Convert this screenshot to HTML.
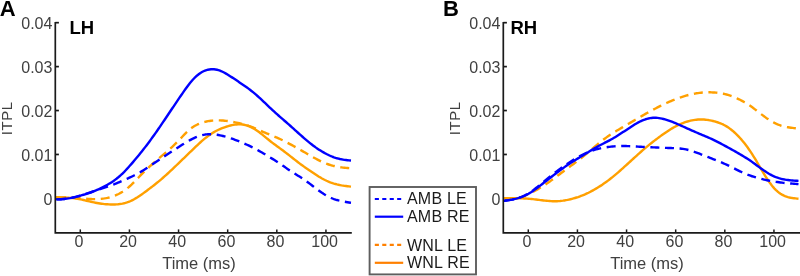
<!DOCTYPE html>
<html><head><meta charset="utf-8"><style>
html,body{margin:0;padding:0;background:#fff;}
body{width:800px;height:276px;overflow:hidden;}
svg{display:block;will-change:transform;}
text{font-family:"Liberation Sans",sans-serif;}
.tk{font-size:16px;fill:#404040;}
.ty{letter-spacing:0px;}
text.yl{font-size:15px;letter-spacing:0.5px;}
.lb{font-size:16.5px;fill:#404040;}
.lg{font-size:16px;letter-spacing:0.2px;fill:#1a1a1a;}
.tt{font-size:18.5px;font-weight:bold;fill:#000;}
.lt{font-size:22px;font-weight:bold;fill:#000;}
</style></head><body>
<svg width="800" height="276" viewBox="0 0 800 276">
<rect width="800" height="276" fill="#fff"/>
<line x1="55.30" y1="198.40" x2="58.90" y2="198.40" stroke="#1a1a1a" stroke-width="1.7"/>
<line x1="55.30" y1="154.47" x2="58.90" y2="154.47" stroke="#1a1a1a" stroke-width="1.7"/>
<line x1="55.30" y1="110.54" x2="58.90" y2="110.54" stroke="#1a1a1a" stroke-width="1.7"/>
<line x1="55.30" y1="66.61" x2="58.90" y2="66.61" stroke="#1a1a1a" stroke-width="1.7"/>
<line x1="55.30" y1="22.68" x2="58.90" y2="22.68" stroke="#1a1a1a" stroke-width="1.7"/>
<line x1="80.30" y1="232.80" x2="80.30" y2="229.40" stroke="#1a1a1a" stroke-width="1.5"/>
<line x1="129.43" y1="232.80" x2="129.43" y2="229.40" stroke="#1a1a1a" stroke-width="1.5"/>
<line x1="178.56" y1="232.80" x2="178.56" y2="229.40" stroke="#1a1a1a" stroke-width="1.5"/>
<line x1="227.69" y1="232.80" x2="227.69" y2="229.40" stroke="#1a1a1a" stroke-width="1.5"/>
<line x1="276.82" y1="232.80" x2="276.82" y2="229.40" stroke="#1a1a1a" stroke-width="1.5"/>
<line x1="325.95" y1="232.80" x2="325.95" y2="229.40" stroke="#1a1a1a" stroke-width="1.5"/>
<clipPath id="clip0"><rect x="55.3" y="17.0" width="296.5" height="215.8"/></clipPath>
<g clip-path="url(#clip0)" fill="none" stroke-width="2.40" stroke-linejoin="round">
<path d="M55.00,197.28 L56.50,197.32 L58.00,197.35 L59.50,197.39 L61.00,197.42 L62.50,197.46 L64.00,197.51 L65.50,197.55 L67.00,197.60 L68.50,197.65 L70.00,197.71 L71.50,197.77 L73.00,197.84 L74.50,197.92 L76.00,198.00 L77.50,198.09 L79.00,198.19 L80.50,198.30 L82.00,198.41 L83.50,198.53 L85.00,198.64 L86.50,198.75 L88.00,198.86 L89.50,198.95 L91.00,199.02 L92.50,199.08 L94.00,199.11 L95.50,199.12 L97.00,199.10 L98.50,199.04 L100.00,198.95 L101.50,198.82 L103.00,198.64 L104.50,198.43 L106.00,198.17 L107.50,197.86 L109.00,197.50 L110.50,197.10 L112.00,196.64 L113.50,196.12 L115.00,195.55 L116.50,194.91 L118.00,194.22 L119.50,193.45 L121.00,192.62 L122.50,191.71 L124.00,190.73 L125.50,189.67 L127.00,188.53 L128.50,187.31 L130.00,186.01 L131.50,184.62 L133.00,183.16 L134.50,181.66 L136.00,180.12 L137.50,178.56 L139.00,177.00 L140.50,175.46 L142.00,173.94 L143.50,172.45 L145.00,170.99 L146.50,169.55 L148.00,168.13 L149.50,166.73 L151.00,165.35 L152.50,163.99 L154.00,162.64 L155.50,161.31 L157.00,160.00 L158.50,158.70 L160.00,157.41 L161.50,156.14 L163.00,154.87 L164.50,153.61 L166.00,152.33 L167.50,151.05 L169.00,149.74 L170.50,148.40 L172.00,147.04 L173.50,145.63 L175.00,144.19 L176.50,142.71 L178.00,141.19 L179.50,139.63 L181.00,138.05 L182.50,136.46 L184.00,134.89 L185.50,133.36 L187.00,131.88 L188.50,130.49 L190.00,129.20 L191.50,128.04 L193.00,126.99 L194.50,126.05 L196.00,125.21 L197.50,124.47 L199.00,123.80 L200.50,123.21 L202.00,122.68 L203.50,122.22 L205.00,121.82 L206.50,121.48 L208.00,121.18 L209.50,120.94 L211.00,120.75 L212.50,120.60 L214.00,120.49 L215.50,120.42 L217.00,120.38 L218.50,120.38 L220.00,120.42 L221.50,120.48 L223.00,120.57 L224.50,120.69 L226.00,120.85 L227.50,121.03 L229.00,121.23 L230.50,121.47 L232.00,121.73 L233.50,122.02 L235.00,122.32 L236.50,122.63 L238.00,122.95 L239.50,123.29 L241.00,123.64 L242.50,124.02 L244.00,124.42 L245.50,124.84 L247.00,125.29 L248.50,125.78 L250.00,126.29 L251.50,126.85 L253.00,127.44 L254.50,128.06 L256.00,128.69 L257.50,129.35 L259.00,130.02 L260.50,130.69 L262.00,131.36 L263.50,132.03 L265.00,132.69 L266.50,133.34 L268.00,133.96 L269.50,134.58 L271.00,135.19 L272.50,135.79 L274.00,136.41 L275.50,137.03 L277.00,137.67 L278.50,138.32 L280.00,139.01 L281.50,139.73 L283.00,140.47 L284.50,141.22 L286.00,142.00 L287.50,142.78 L289.00,143.57 L290.50,144.37 L292.00,145.18 L293.50,146.00 L295.00,146.83 L296.50,147.67 L298.00,148.52 L299.50,149.37 L301.00,150.23 L302.50,151.10 L304.00,151.96 L305.50,152.83 L307.00,153.71 L308.50,154.57 L310.00,155.44 L311.50,156.30 L313.00,157.15 L314.50,157.99 L316.00,158.81 L317.50,159.61 L319.00,160.39 L320.50,161.13 L322.00,161.84 L323.50,162.50 L325.00,163.13 L326.50,163.71 L328.00,164.25 L329.50,164.76 L331.00,165.22 L332.50,165.64 L334.00,166.01 L335.50,166.35 L337.00,166.66 L338.50,166.93 L340.00,167.17 L341.50,167.39 L343.00,167.58 L344.50,167.75 L346.00,167.90 L347.50,168.04 L349.00,168.17 L350.50,168.30 L351.00,168.34" stroke="#FFA000" stroke-dasharray="9 5.6" stroke-dashoffset="-2"/>
<path d="M55.00,197.23 L56.50,197.26 L58.00,197.29 L59.50,197.32 L61.00,197.36 L62.50,197.41 L64.00,197.47 L65.50,197.54 L67.00,197.62 L68.50,197.72 L70.00,197.84 L71.50,197.98 L73.00,198.15 L74.50,198.33 L76.00,198.55 L77.50,198.79 L79.00,199.05 L80.50,199.34 L82.00,199.66 L83.50,200.00 L85.00,200.35 L86.50,200.71 L88.00,201.07 L89.50,201.42 L91.00,201.76 L92.50,202.09 L94.00,202.41 L95.50,202.71 L97.00,202.99 L98.50,203.25 L100.00,203.49 L101.50,203.71 L103.00,203.90 L104.50,204.07 L106.00,204.21 L107.50,204.32 L109.00,204.41 L110.50,204.46 L112.00,204.49 L113.50,204.48 L115.00,204.43 L116.50,204.35 L118.00,204.22 L119.50,204.05 L121.00,203.83 L122.50,203.56 L124.00,203.24 L125.50,202.85 L127.00,202.40 L128.50,201.88 L130.00,201.28 L131.50,200.60 L133.00,199.85 L134.50,199.04 L136.00,198.16 L137.50,197.24 L139.00,196.26 L140.50,195.25 L142.00,194.21 L143.50,193.14 L145.00,192.04 L146.50,190.92 L148.00,189.79 L149.50,188.65 L151.00,187.50 L152.50,186.34 L154.00,185.18 L155.50,183.99 L157.00,182.80 L158.50,181.58 L160.00,180.33 L161.50,179.07 L163.00,177.77 L164.50,176.45 L166.00,175.11 L167.50,173.75 L169.00,172.37 L170.50,170.97 L172.00,169.56 L173.50,168.13 L175.00,166.69 L176.50,165.24 L178.00,163.79 L179.50,162.35 L181.00,160.90 L182.50,159.45 L184.00,158.01 L185.50,156.57 L187.00,155.12 L188.50,153.67 L190.00,152.22 L191.50,150.77 L193.00,149.31 L194.50,147.86 L196.00,146.42 L197.50,145.01 L199.00,143.61 L200.50,142.26 L202.00,140.93 L203.50,139.65 L205.00,138.42 L206.50,137.23 L208.00,136.09 L209.50,135.01 L211.00,133.99 L212.50,133.03 L214.00,132.12 L215.50,131.27 L217.00,130.47 L218.50,129.73 L220.00,129.04 L221.50,128.40 L223.00,127.81 L224.50,127.27 L226.00,126.77 L227.50,126.31 L229.00,125.90 L230.50,125.52 L232.00,125.17 L233.50,124.88 L235.00,124.64 L236.50,124.46 L238.00,124.35 L239.50,124.32 L241.00,124.37 L242.50,124.51 L244.00,124.75 L245.50,125.07 L247.00,125.49 L248.50,126.00 L250.00,126.61 L251.50,127.32 L253.00,128.11 L254.50,128.99 L256.00,129.95 L257.50,130.97 L259.00,132.06 L260.50,133.19 L262.00,134.38 L263.50,135.59 L265.00,136.83 L266.50,138.07 L268.00,139.30 L269.50,140.51 L271.00,141.68 L272.50,142.83 L274.00,143.95 L275.50,145.06 L277.00,146.16 L278.50,147.26 L280.00,148.36 L281.50,149.46 L283.00,150.57 L284.50,151.70 L286.00,152.84 L287.50,154.00 L289.00,155.17 L290.50,156.35 L292.00,157.53 L293.50,158.71 L295.00,159.88 L296.50,161.05 L298.00,162.20 L299.50,163.34 L301.00,164.47 L302.50,165.57 L304.00,166.64 L305.50,167.69 L307.00,168.71 L308.50,169.72 L310.00,170.73 L311.50,171.73 L313.00,172.73 L314.50,173.73 L316.00,174.73 L317.50,175.70 L319.00,176.66 L320.50,177.57 L322.00,178.44 L323.50,179.26 L325.00,180.03 L326.50,180.74 L328.00,181.40 L329.50,182.02 L331.00,182.58 L332.50,183.10 L334.00,183.58 L335.50,184.00 L337.00,184.39 L338.50,184.74 L340.00,185.06 L341.50,185.35 L343.00,185.60 L344.50,185.84 L346.00,186.05 L347.50,186.24 L349.00,186.43 L350.50,186.61 L351.00,186.67" stroke="#FFA000"/>
<path d="M55.00,199.46 L56.50,199.41 L58.00,199.34 L59.50,199.27 L61.00,199.18 L62.50,199.08 L64.00,198.95 L65.50,198.79 L67.00,198.60 L68.50,198.39 L70.00,198.14 L71.50,197.85 L73.00,197.54 L74.50,197.19 L76.00,196.82 L77.50,196.42 L79.00,196.00 L80.50,195.57 L82.00,195.12 L83.50,194.66 L85.00,194.20 L86.50,193.72 L88.00,193.23 L89.50,192.74 L91.00,192.24 L92.50,191.73 L94.00,191.22 L95.50,190.71 L97.00,190.21 L98.50,189.70 L100.00,189.20 L101.50,188.70 L103.00,188.20 L104.50,187.71 L106.00,187.21 L107.50,186.70 L109.00,186.17 L110.50,185.64 L112.00,185.08 L113.50,184.51 L115.00,183.92 L116.50,183.32 L118.00,182.70 L119.50,182.08 L121.00,181.44 L122.50,180.80 L124.00,180.14 L125.50,179.48 L127.00,178.80 L128.50,178.12 L130.00,177.42 L131.50,176.71 L133.00,175.98 L134.50,175.24 L136.00,174.47 L137.50,173.68 L139.00,172.85 L140.50,172.00 L142.00,171.10 L143.50,170.18 L145.00,169.23 L146.50,168.27 L148.00,167.29 L149.50,166.30 L151.00,165.30 L152.50,164.31 L154.00,163.31 L155.50,162.31 L157.00,161.31 L158.50,160.31 L160.00,159.31 L161.50,158.31 L163.00,157.32 L164.50,156.32 L166.00,155.33 L167.50,154.33 L169.00,153.34 L170.50,152.35 L172.00,151.37 L173.50,150.39 L175.00,149.41 L176.50,148.43 L178.00,147.46 L179.50,146.50 L181.00,145.54 L182.50,144.59 L184.00,143.65 L185.50,142.74 L187.00,141.84 L188.50,140.97 L190.00,140.13 L191.50,139.32 L193.00,138.55 L194.50,137.83 L196.00,137.17 L197.50,136.56 L199.00,136.01 L200.50,135.54 L202.00,135.14 L203.50,134.81 L205.00,134.56 L206.50,134.37 L208.00,134.25 L209.50,134.19 L211.00,134.20 L212.50,134.26 L214.00,134.38 L215.50,134.55 L217.00,134.77 L218.50,135.02 L220.00,135.32 L221.50,135.65 L223.00,136.01 L224.50,136.39 L226.00,136.81 L227.50,137.25 L229.00,137.71 L230.50,138.20 L232.00,138.70 L233.50,139.22 L235.00,139.76 L236.50,140.32 L238.00,140.90 L239.50,141.50 L241.00,142.12 L242.50,142.75 L244.00,143.40 L245.50,144.07 L247.00,144.76 L248.50,145.46 L250.00,146.18 L251.50,146.92 L253.00,147.68 L254.50,148.45 L256.00,149.24 L257.50,150.04 L259.00,150.87 L260.50,151.71 L262.00,152.57 L263.50,153.44 L265.00,154.32 L266.50,155.21 L268.00,156.11 L269.50,157.02 L271.00,157.94 L272.50,158.88 L274.00,159.83 L275.50,160.80 L277.00,161.78 L278.50,162.78 L280.00,163.79 L281.50,164.81 L283.00,165.83 L284.50,166.85 L286.00,167.87 L287.50,168.89 L289.00,169.90 L290.50,170.90 L292.00,171.89 L293.50,172.86 L295.00,173.81 L296.50,174.74 L298.00,175.66 L299.50,176.58 L301.00,177.53 L302.50,178.51 L304.00,179.52 L305.50,180.58 L307.00,181.66 L308.50,182.76 L310.00,183.89 L311.50,185.03 L313.00,186.18 L314.50,187.33 L316.00,188.47 L317.50,189.59 L319.00,190.70 L320.50,191.77 L322.00,192.80 L323.50,193.78 L325.00,194.71 L326.50,195.59 L328.00,196.41 L329.50,197.17 L331.00,197.87 L332.50,198.50 L334.00,199.07 L335.50,199.58 L337.00,200.03 L338.50,200.44 L340.00,200.81 L341.50,201.14 L343.00,201.45 L344.50,201.72 L346.00,201.98 L347.50,202.23 L349.00,202.46 L350.50,202.69 L351.00,202.76" stroke="#0000FF" stroke-dasharray="9 5.6" stroke-dashoffset="-2"/>
<path d="M55.00,199.46 L56.50,199.40 L58.00,199.34 L59.50,199.26 L61.00,199.18 L62.50,199.07 L64.00,198.94 L65.50,198.79 L67.00,198.60 L68.50,198.38 L70.00,198.14 L71.50,197.86 L73.00,197.55 L74.50,197.22 L76.00,196.85 L77.50,196.46 L79.00,196.06 L80.50,195.64 L82.00,195.20 L83.50,194.76 L85.00,194.30 L86.50,193.82 L88.00,193.33 L89.50,192.82 L91.00,192.29 L92.50,191.75 L94.00,191.18 L95.50,190.59 L97.00,189.97 L98.50,189.32 L100.00,188.64 L101.50,187.92 L103.00,187.17 L104.50,186.39 L106.00,185.57 L107.50,184.72 L109.00,183.83 L110.50,182.90 L112.00,181.94 L113.50,180.93 L115.00,179.86 L116.50,178.74 L118.00,177.55 L119.50,176.29 L121.00,174.96 L122.50,173.54 L124.00,172.06 L125.50,170.51 L127.00,168.91 L128.50,167.25 L130.00,165.57 L131.50,163.85 L133.00,162.11 L134.50,160.34 L136.00,158.56 L137.50,156.75 L139.00,154.92 L140.50,153.06 L142.00,151.19 L143.50,149.29 L145.00,147.37 L146.50,145.42 L148.00,143.44 L149.50,141.43 L151.00,139.39 L152.50,137.33 L154.00,135.23 L155.50,133.11 L157.00,130.96 L158.50,128.80 L160.00,126.62 L161.50,124.42 L163.00,122.20 L164.50,119.98 L166.00,117.74 L167.50,115.50 L169.00,113.26 L170.50,111.02 L172.00,108.78 L173.50,106.55 L175.00,104.32 L176.50,102.10 L178.00,99.88 L179.50,97.68 L181.00,95.49 L182.50,93.32 L184.00,91.17 L185.50,89.06 L187.00,86.99 L188.50,84.97 L190.00,83.05 L191.50,81.24 L193.00,79.54 L194.50,77.96 L196.00,76.51 L197.50,75.19 L199.00,74.01 L200.50,72.96 L202.00,72.05 L203.50,71.27 L205.00,70.63 L206.50,70.11 L208.00,69.71 L209.50,69.44 L211.00,69.28 L212.50,69.23 L214.00,69.30 L215.50,69.48 L217.00,69.77 L218.50,70.17 L220.00,70.67 L221.50,71.28 L223.00,71.99 L224.50,72.77 L226.00,73.62 L227.50,74.51 L229.00,75.45 L230.50,76.41 L232.00,77.38 L233.50,78.36 L235.00,79.36 L236.50,80.36 L238.00,81.37 L239.50,82.38 L241.00,83.39 L242.50,84.41 L244.00,85.44 L245.50,86.48 L247.00,87.55 L248.50,88.65 L250.00,89.78 L251.50,90.95 L253.00,92.16 L254.50,93.41 L256.00,94.69 L257.50,96.01 L259.00,97.36 L260.50,98.73 L262.00,100.13 L263.50,101.55 L265.00,102.99 L266.50,104.42 L268.00,105.86 L269.50,107.29 L271.00,108.70 L272.50,110.10 L274.00,111.48 L275.50,112.85 L277.00,114.19 L278.50,115.52 L280.00,116.84 L281.50,118.14 L283.00,119.43 L284.50,120.73 L286.00,122.03 L287.50,123.35 L289.00,124.67 L290.50,126.00 L292.00,127.33 L293.50,128.68 L295.00,130.03 L296.50,131.38 L298.00,132.74 L299.50,134.09 L301.00,135.44 L302.50,136.77 L304.00,138.09 L305.50,139.38 L307.00,140.66 L308.50,141.90 L310.00,143.12 L311.50,144.30 L313.00,145.45 L314.50,146.56 L316.00,147.63 L317.50,148.65 L319.00,149.64 L320.50,150.59 L322.00,151.50 L323.50,152.38 L325.00,153.22 L326.50,154.03 L328.00,154.78 L329.50,155.49 L331.00,156.15 L332.50,156.75 L334.00,157.30 L335.50,157.80 L337.00,158.24 L338.50,158.63 L340.00,158.99 L341.50,159.30 L343.00,159.57 L344.50,159.81 L346.00,160.02 L347.50,160.21 L349.00,160.39 L350.50,160.56 L351.00,160.62" stroke="#0000FF"/>
</g>
<path d="M55.30,22.00 V232.80 H351.80" fill="none" stroke="#1a1a1a" stroke-width="1.7" stroke-linejoin="miter"/>
<text x="52.40" y="205.00" text-anchor="end" class="tk ty">0</text>
<text x="52.40" y="161.07" text-anchor="end" class="tk ty">0.01</text>
<text x="52.40" y="117.14" text-anchor="end" class="tk ty">0.02</text>
<text x="52.40" y="73.21" text-anchor="end" class="tk ty">0.03</text>
<text x="52.40" y="29.28" text-anchor="end" class="tk ty">0.04</text>
<text x="79.00" y="246.90" text-anchor="middle" class="tk">0</text>
<text x="128.13" y="246.90" text-anchor="middle" class="tk">20</text>
<text x="177.26" y="246.90" text-anchor="middle" class="tk">40</text>
<text x="226.39" y="246.90" text-anchor="middle" class="tk">60</text>
<text x="275.52" y="246.90" text-anchor="middle" class="tk">80</text>
<text x="324.65" y="246.90" text-anchor="middle" class="tk">100</text>
<text x="199.00" y="268.6" text-anchor="middle" class="lb">Time (ms)</text>
<text transform="translate(11.50,118.3) rotate(-90)" text-anchor="middle" class="lb yl">ITPL</text>
<text x="69.50" y="33.8" class="tt">LH</text>
<text x="-0.20" y="15.5" class="lt">A</text>
<line x1="503.30" y1="198.40" x2="506.90" y2="198.40" stroke="#1a1a1a" stroke-width="1.7"/>
<line x1="503.30" y1="154.47" x2="506.90" y2="154.47" stroke="#1a1a1a" stroke-width="1.7"/>
<line x1="503.30" y1="110.54" x2="506.90" y2="110.54" stroke="#1a1a1a" stroke-width="1.7"/>
<line x1="503.30" y1="66.61" x2="506.90" y2="66.61" stroke="#1a1a1a" stroke-width="1.7"/>
<line x1="503.30" y1="22.68" x2="506.90" y2="22.68" stroke="#1a1a1a" stroke-width="1.7"/>
<line x1="528.30" y1="232.80" x2="528.30" y2="229.40" stroke="#1a1a1a" stroke-width="1.5"/>
<line x1="577.43" y1="232.80" x2="577.43" y2="229.40" stroke="#1a1a1a" stroke-width="1.5"/>
<line x1="626.56" y1="232.80" x2="626.56" y2="229.40" stroke="#1a1a1a" stroke-width="1.5"/>
<line x1="675.69" y1="232.80" x2="675.69" y2="229.40" stroke="#1a1a1a" stroke-width="1.5"/>
<line x1="724.82" y1="232.80" x2="724.82" y2="229.40" stroke="#1a1a1a" stroke-width="1.5"/>
<line x1="773.95" y1="232.80" x2="773.95" y2="229.40" stroke="#1a1a1a" stroke-width="1.5"/>
<clipPath id="clip448"><rect x="503.3" y="17.0" width="296.7" height="215.8"/></clipPath>
<g clip-path="url(#clip448)" fill="none" stroke-width="2.40" stroke-linejoin="round">
<path d="M503.00,198.43 L504.50,198.46 L506.00,198.48 L507.50,198.49 L509.00,198.49 L510.50,198.45 L512.00,198.39 L513.50,198.28 L515.00,198.13 L516.50,197.93 L518.00,197.68 L519.50,197.37 L521.00,197.00 L522.50,196.57 L524.00,196.07 L525.50,195.50 L527.00,194.87 L528.50,194.19 L530.00,193.46 L531.50,192.69 L533.00,191.89 L534.50,191.06 L536.00,190.22 L537.50,189.35 L539.00,188.47 L540.50,187.57 L542.00,186.65 L543.50,185.71 L545.00,184.74 L546.50,183.75 L548.00,182.73 L549.50,181.68 L551.00,180.62 L552.50,179.53 L554.00,178.42 L555.50,177.31 L557.00,176.19 L558.50,175.06 L560.00,173.93 L561.50,172.80 L563.00,171.67 L564.50,170.55 L566.00,169.43 L567.50,168.32 L569.00,167.22 L570.50,166.13 L572.00,165.04 L573.50,163.95 L575.00,162.85 L576.50,161.75 L578.00,160.63 L579.50,159.49 L581.00,158.33 L582.50,157.14 L584.00,155.93 L585.50,154.69 L587.00,153.43 L588.50,152.16 L590.00,150.86 L591.50,149.56 L593.00,148.25 L594.50,146.93 L596.00,145.63 L597.50,144.36 L599.00,143.10 L600.50,141.88 L602.00,140.69 L603.50,139.54 L605.00,138.43 L606.50,137.36 L608.00,136.32 L609.50,135.32 L611.00,134.34 L612.50,133.38 L614.00,132.44 L615.50,131.51 L617.00,130.58 L618.50,129.67 L620.00,128.76 L621.50,127.87 L623.00,126.98 L624.50,126.10 L626.00,125.23 L627.50,124.35 L629.00,123.48 L630.50,122.61 L632.00,121.73 L633.50,120.85 L635.00,119.97 L636.50,119.10 L638.00,118.22 L639.50,117.35 L641.00,116.48 L642.50,115.61 L644.00,114.76 L645.50,113.91 L647.00,113.07 L648.50,112.23 L650.00,111.41 L651.50,110.59 L653.00,109.78 L654.50,108.98 L656.00,108.19 L657.50,107.41 L659.00,106.64 L660.50,105.88 L662.00,105.14 L663.50,104.41 L665.00,103.71 L666.50,103.02 L668.00,102.36 L669.50,101.71 L671.00,101.08 L672.50,100.47 L674.00,99.87 L675.50,99.29 L677.00,98.71 L678.50,98.16 L680.00,97.62 L681.50,97.10 L683.00,96.60 L684.50,96.13 L686.00,95.68 L687.50,95.26 L689.00,94.87 L690.50,94.50 L692.00,94.16 L693.50,93.85 L695.00,93.56 L696.50,93.30 L698.00,93.07 L699.50,92.86 L701.00,92.69 L702.50,92.55 L704.00,92.43 L705.50,92.36 L707.00,92.31 L708.50,92.30 L710.00,92.31 L711.50,92.36 L713.00,92.44 L714.50,92.54 L716.00,92.67 L717.50,92.82 L719.00,93.01 L720.50,93.23 L722.00,93.48 L723.50,93.77 L725.00,94.10 L726.50,94.47 L728.00,94.88 L729.50,95.34 L731.00,95.85 L732.50,96.40 L734.00,97.01 L735.50,97.65 L737.00,98.34 L738.50,99.05 L740.00,99.80 L741.50,100.57 L743.00,101.38 L744.50,102.22 L746.00,103.11 L747.50,104.04 L749.00,105.01 L750.50,106.03 L752.00,107.10 L753.50,108.21 L755.00,109.35 L756.50,110.51 L758.00,111.69 L759.50,112.86 L761.00,114.01 L762.50,115.15 L764.00,116.26 L765.50,117.35 L767.00,118.41 L768.50,119.42 L770.00,120.39 L771.50,121.30 L773.00,122.14 L774.50,122.93 L776.00,123.66 L777.50,124.33 L779.00,124.94 L780.50,125.48 L782.00,125.95 L783.50,126.36 L785.00,126.72 L786.50,127.02 L788.00,127.29 L789.50,127.53 L791.00,127.74 L792.50,127.92 L794.00,128.10 L795.50,128.25 L797.00,128.40 L798.50,128.55" stroke="#FFA000" stroke-dasharray="9 5.6" stroke-dashoffset="-2"/>
<path d="M503.00,198.19 L504.50,198.20 L506.00,198.21 L507.50,198.21 L509.00,198.22 L510.50,198.23 L512.00,198.24 L513.50,198.25 L515.00,198.26 L516.50,198.28 L518.00,198.30 L519.50,198.33 L521.00,198.37 L522.50,198.42 L524.00,198.49 L525.50,198.56 L527.00,198.65 L528.50,198.75 L530.00,198.87 L531.50,199.01 L533.00,199.16 L534.50,199.32 L536.00,199.50 L537.50,199.69 L539.00,199.88 L540.50,200.07 L542.00,200.26 L543.50,200.45 L545.00,200.62 L546.50,200.78 L548.00,200.92 L549.50,201.03 L551.00,201.13 L552.50,201.19 L554.00,201.23 L555.50,201.22 L557.00,201.19 L558.50,201.12 L560.00,201.01 L561.50,200.86 L563.00,200.68 L564.50,200.45 L566.00,200.19 L567.50,199.90 L569.00,199.57 L570.50,199.21 L572.00,198.83 L573.50,198.42 L575.00,197.98 L576.50,197.52 L578.00,197.04 L579.50,196.52 L581.00,195.97 L582.50,195.39 L584.00,194.77 L585.50,194.12 L587.00,193.43 L588.50,192.72 L590.00,191.96 L591.50,191.18 L593.00,190.37 L594.50,189.53 L596.00,188.66 L597.50,187.77 L599.00,186.84 L600.50,185.88 L602.00,184.88 L603.50,183.86 L605.00,182.80 L606.50,181.71 L608.00,180.59 L609.50,179.44 L611.00,178.27 L612.50,177.07 L614.00,175.85 L615.50,174.60 L617.00,173.34 L618.50,172.05 L620.00,170.75 L621.50,169.42 L623.00,168.08 L624.50,166.73 L626.00,165.37 L627.50,164.00 L629.00,162.63 L630.50,161.26 L632.00,159.88 L633.50,158.51 L635.00,157.14 L636.50,155.78 L638.00,154.43 L639.50,153.09 L641.00,151.77 L642.50,150.46 L644.00,149.17 L645.50,147.89 L647.00,146.63 L648.50,145.39 L650.00,144.17 L651.50,142.97 L653.00,141.79 L654.50,140.62 L656.00,139.47 L657.50,138.34 L659.00,137.22 L660.50,136.12 L662.00,135.03 L663.50,133.96 L665.00,132.92 L666.50,131.90 L668.00,130.91 L669.50,129.95 L671.00,129.02 L672.50,128.13 L674.00,127.27 L675.50,126.45 L677.00,125.68 L678.50,124.94 L680.00,124.26 L681.50,123.61 L683.00,123.02 L684.50,122.46 L686.00,121.95 L687.50,121.49 L689.00,121.07 L690.50,120.70 L692.00,120.37 L693.50,120.10 L695.00,119.87 L696.50,119.69 L698.00,119.56 L699.50,119.49 L701.00,119.46 L702.50,119.49 L704.00,119.56 L705.50,119.68 L707.00,119.85 L708.50,120.06 L710.00,120.32 L711.50,120.63 L713.00,120.97 L714.50,121.36 L716.00,121.78 L717.50,122.25 L719.00,122.77 L720.50,123.35 L722.00,123.99 L723.50,124.70 L725.00,125.49 L726.50,126.37 L728.00,127.33 L729.50,128.38 L731.00,129.50 L732.50,130.71 L734.00,132.00 L735.50,133.37 L737.00,134.82 L738.50,136.35 L740.00,137.97 L741.50,139.66 L743.00,141.44 L744.50,143.31 L746.00,145.27 L747.50,147.31 L749.00,149.44 L750.50,151.64 L752.00,153.93 L753.50,156.29 L755.00,158.72 L756.50,161.22 L758.00,163.76 L759.50,166.33 L761.00,168.90 L762.50,171.44 L764.00,173.94 L765.50,176.37 L767.00,178.71 L768.50,180.95 L770.00,183.07 L771.50,185.07 L773.00,186.91 L774.50,188.60 L776.00,190.12 L777.50,191.47 L779.00,192.67 L780.50,193.71 L782.00,194.62 L783.50,195.40 L785.00,196.06 L786.50,196.62 L788.00,197.09 L789.50,197.47 L791.00,197.79 L792.50,198.04 L794.00,198.25 L795.50,198.43 L797.00,198.58 L798.50,198.72" stroke="#FFA000"/>
<path d="M503.00,200.91 L504.50,200.73 L506.00,200.54 L507.50,200.34 L509.00,200.13 L510.50,199.89 L512.00,199.62 L513.50,199.31 L515.00,198.96 L516.50,198.57 L518.00,198.13 L519.50,197.64 L521.00,197.10 L522.50,196.49 L524.00,195.83 L525.50,195.09 L527.00,194.29 L528.50,193.42 L530.00,192.48 L531.50,191.45 L533.00,190.37 L534.50,189.22 L536.00,188.04 L537.50,186.83 L539.00,185.59 L540.50,184.35 L542.00,183.12 L543.50,181.88 L545.00,180.65 L546.50,179.42 L548.00,178.20 L549.50,176.99 L551.00,175.79 L552.50,174.60 L554.00,173.42 L555.50,172.26 L557.00,171.12 L558.50,169.99 L560.00,168.88 L561.50,167.80 L563.00,166.73 L564.50,165.69 L566.00,164.66 L567.50,163.65 L569.00,162.66 L570.50,161.69 L572.00,160.74 L573.50,159.80 L575.00,158.89 L576.50,158.00 L578.00,157.14 L579.50,156.30 L581.00,155.49 L582.50,154.71 L584.00,153.97 L585.50,153.26 L587.00,152.59 L588.50,151.96 L590.00,151.37 L591.50,150.82 L593.00,150.32 L594.50,149.85 L596.00,149.43 L597.50,149.03 L599.00,148.67 L600.50,148.33 L602.00,148.02 L603.50,147.74 L605.00,147.48 L606.50,147.25 L608.00,147.04 L609.50,146.85 L611.00,146.68 L612.50,146.54 L614.00,146.41 L615.50,146.31 L617.00,146.22 L618.50,146.15 L620.00,146.10 L621.50,146.06 L623.00,146.05 L624.50,146.05 L626.00,146.06 L627.50,146.09 L629.00,146.13 L630.50,146.19 L632.00,146.25 L633.50,146.33 L635.00,146.42 L636.50,146.51 L638.00,146.60 L639.50,146.69 L641.00,146.78 L642.50,146.87 L644.00,146.95 L645.50,147.03 L647.00,147.11 L648.50,147.18 L650.00,147.25 L651.50,147.31 L653.00,147.37 L654.50,147.42 L656.00,147.48 L657.50,147.54 L659.00,147.60 L660.50,147.65 L662.00,147.71 L663.50,147.77 L665.00,147.83 L666.50,147.88 L668.00,147.93 L669.50,147.98 L671.00,148.03 L672.50,148.09 L674.00,148.15 L675.50,148.22 L677.00,148.32 L678.50,148.43 L680.00,148.56 L681.50,148.73 L683.00,148.93 L684.50,149.16 L686.00,149.44 L687.50,149.76 L689.00,150.13 L690.50,150.55 L692.00,151.01 L693.50,151.51 L695.00,152.03 L696.50,152.57 L698.00,153.14 L699.50,153.71 L701.00,154.29 L702.50,154.87 L704.00,155.46 L705.50,156.06 L707.00,156.65 L708.50,157.24 L710.00,157.83 L711.50,158.42 L713.00,159.01 L714.50,159.59 L716.00,160.19 L717.50,160.79 L719.00,161.40 L720.50,162.02 L722.00,162.67 L723.50,163.32 L725.00,163.99 L726.50,164.68 L728.00,165.38 L729.50,166.10 L731.00,166.83 L732.50,167.58 L734.00,168.33 L735.50,169.08 L737.00,169.83 L738.50,170.58 L740.00,171.32 L741.50,172.04 L743.00,172.73 L744.50,173.41 L746.00,174.04 L747.50,174.65 L749.00,175.21 L750.50,175.74 L752.00,176.24 L753.50,176.71 L755.00,177.17 L756.50,177.61 L758.00,178.03 L759.50,178.43 L761.00,178.82 L762.50,179.20 L764.00,179.55 L765.50,179.90 L767.00,180.22 L768.50,180.53 L770.00,180.82 L771.50,181.10 L773.00,181.36 L774.50,181.61 L776.00,181.84 L777.50,182.06 L779.00,182.27 L780.50,182.47 L782.00,182.65 L783.50,182.82 L785.00,182.99 L786.50,183.14 L788.00,183.28 L789.50,183.42 L791.00,183.55 L792.50,183.67 L794.00,183.79 L795.50,183.91 L797.00,184.02 L798.50,184.14" stroke="#0000FF" stroke-dasharray="9 5.6" stroke-dashoffset="-2"/>
<path d="M503.00,200.90 L504.50,200.71 L506.00,200.52 L507.50,200.32 L509.00,200.10 L510.50,199.85 L512.00,199.58 L513.50,199.27 L515.00,198.93 L516.50,198.54 L518.00,198.11 L519.50,197.64 L521.00,197.12 L522.50,196.55 L524.00,195.92 L525.50,195.25 L527.00,194.51 L528.50,193.71 L530.00,192.85 L531.50,191.91 L533.00,190.92 L534.50,189.88 L536.00,188.79 L537.50,187.68 L539.00,186.54 L540.50,185.39 L542.00,184.23 L543.50,183.06 L545.00,181.89 L546.50,180.72 L548.00,179.55 L549.50,178.38 L551.00,177.21 L552.50,176.05 L554.00,174.89 L555.50,173.74 L557.00,172.60 L558.50,171.48 L560.00,170.37 L561.50,169.27 L563.00,168.20 L564.50,167.14 L566.00,166.09 L567.50,165.06 L569.00,164.05 L570.50,163.06 L572.00,162.08 L573.50,161.13 L575.00,160.18 L576.50,159.26 L578.00,158.35 L579.50,157.45 L581.00,156.55 L582.50,155.65 L584.00,154.75 L585.50,153.83 L587.00,152.90 L588.50,151.97 L590.00,151.05 L591.50,150.14 L593.00,149.24 L594.50,148.36 L596.00,147.49 L597.50,146.65 L599.00,145.82 L600.50,145.02 L602.00,144.23 L603.50,143.45 L605.00,142.69 L606.50,141.92 L608.00,141.14 L609.50,140.35 L611.00,139.54 L612.50,138.70 L614.00,137.83 L615.50,136.92 L617.00,135.99 L618.50,135.04 L620.00,134.08 L621.50,133.10 L623.00,132.12 L624.50,131.13 L626.00,130.13 L627.50,129.14 L629.00,128.15 L630.50,127.16 L632.00,126.19 L633.50,125.23 L635.00,124.31 L636.50,123.42 L638.00,122.57 L639.50,121.78 L641.00,121.05 L642.50,120.39 L644.00,119.79 L645.50,119.27 L647.00,118.82 L648.50,118.45 L650.00,118.15 L651.50,117.94 L653.00,117.80 L654.50,117.75 L656.00,117.78 L657.50,117.89 L659.00,118.07 L660.50,118.32 L662.00,118.62 L663.50,118.99 L665.00,119.39 L666.50,119.84 L668.00,120.33 L669.50,120.85 L671.00,121.40 L672.50,121.98 L674.00,122.58 L675.50,123.20 L677.00,123.84 L678.50,124.49 L680.00,125.16 L681.50,125.83 L683.00,126.51 L684.50,127.19 L686.00,127.87 L687.50,128.55 L689.00,129.22 L690.50,129.89 L692.00,130.55 L693.50,131.21 L695.00,131.87 L696.50,132.51 L698.00,133.15 L699.50,133.78 L701.00,134.41 L702.50,135.04 L704.00,135.67 L705.50,136.30 L707.00,136.94 L708.50,137.60 L710.00,138.27 L711.50,138.96 L713.00,139.67 L714.50,140.40 L716.00,141.14 L717.50,141.89 L719.00,142.66 L720.50,143.43 L722.00,144.22 L723.50,145.02 L725.00,145.83 L726.50,146.64 L728.00,147.46 L729.50,148.29 L731.00,149.12 L732.50,149.96 L734.00,150.81 L735.50,151.66 L737.00,152.52 L738.50,153.38 L740.00,154.26 L741.50,155.14 L743.00,156.03 L744.50,156.95 L746.00,157.88 L747.50,158.84 L749.00,159.82 L750.50,160.84 L752.00,161.89 L753.50,162.97 L755.00,164.06 L756.50,165.17 L758.00,166.28 L759.50,167.39 L761.00,168.49 L762.50,169.56 L764.00,170.61 L765.50,171.61 L767.00,172.57 L768.50,173.48 L770.00,174.33 L771.50,175.13 L773.00,175.86 L774.50,176.54 L776.00,177.14 L777.50,177.69 L779.00,178.17 L780.50,178.60 L782.00,178.97 L783.50,179.30 L785.00,179.58 L786.50,179.83 L788.00,180.03 L789.50,180.21 L791.00,180.36 L792.50,180.49 L794.00,180.59 L795.50,180.69 L797.00,180.78 L798.50,180.86" stroke="#0000FF"/>
</g>
<path d="M503.30,22.00 V232.80 H800.00" fill="none" stroke="#1a1a1a" stroke-width="1.7" stroke-linejoin="miter"/>
<text x="500.40" y="205.00" text-anchor="end" class="tk ty">0</text>
<text x="500.40" y="161.07" text-anchor="end" class="tk ty">0.01</text>
<text x="500.40" y="117.14" text-anchor="end" class="tk ty">0.02</text>
<text x="500.40" y="73.21" text-anchor="end" class="tk ty">0.03</text>
<text x="500.40" y="29.28" text-anchor="end" class="tk ty">0.04</text>
<text x="527.00" y="246.90" text-anchor="middle" class="tk">0</text>
<text x="576.13" y="246.90" text-anchor="middle" class="tk">20</text>
<text x="625.26" y="246.90" text-anchor="middle" class="tk">40</text>
<text x="674.39" y="246.90" text-anchor="middle" class="tk">60</text>
<text x="723.52" y="246.90" text-anchor="middle" class="tk">80</text>
<text x="772.65" y="246.90" text-anchor="middle" class="tk">100</text>
<text x="647.00" y="268.6" text-anchor="middle" class="lb">Time (ms)</text>
<text transform="translate(459.50,118.3) rotate(-90)" text-anchor="middle" class="lb yl">ITPL</text>
<text x="510.40" y="33.8" class="tt">RH</text>
<text x="443.10" y="15.5" class="lt">B</text>
<rect x="369.6" y="187.0" width="106.4" height="87.4" fill="#fff" stroke="#5e5e5e" stroke-width="1.9"/>
<line x1="374.8" y1="199.00" x2="401.2" y2="199.00" stroke="#0000FF" stroke-width="2.2" stroke-dasharray="4.1 3.35"/>
<text x="407.0" y="204.20" class="lg">AMB LE</text>
<line x1="374.8" y1="216.70" x2="403.2" y2="216.70" stroke="#0000FF" stroke-width="2.2"/>
<text x="407.0" y="221.70" class="lg">AMB RE</text>
<line x1="374.8" y1="244.90" x2="401.2" y2="244.90" stroke="#FF8000" stroke-width="2.2" stroke-dasharray="4.1 3.35"/>
<text x="407.0" y="250.50" class="lg">WNL LE</text>
<line x1="374.8" y1="262.80" x2="403.2" y2="262.80" stroke="#FF8000" stroke-width="2.2"/>
<text x="407.0" y="268.10" class="lg">WNL RE</text>
</svg>
</body></html>
